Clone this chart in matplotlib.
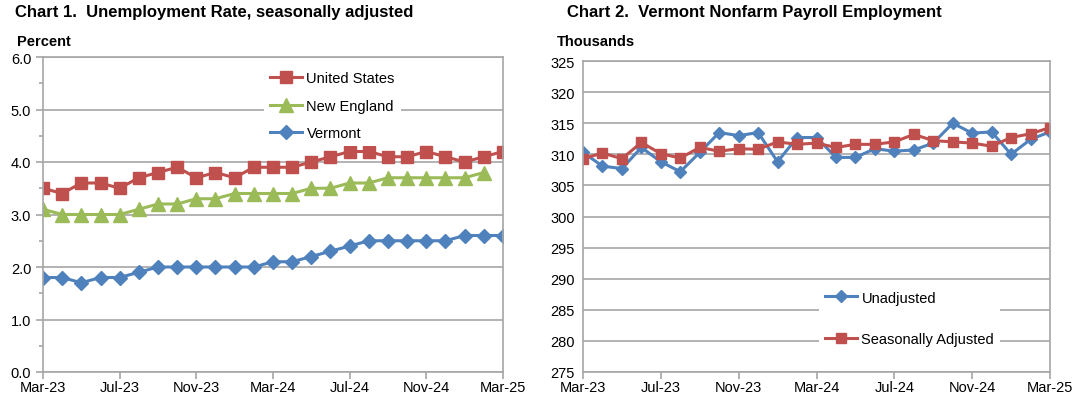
import matplotlib
matplotlib.use("Agg")
import matplotlib.pyplot as plt

plt.rcParams['font.family'] = ['Liberation Sans', 'DejaVu Sans']

# months Mar-23 .. Mar-25
months = ["Mar-23", "Apr-23", "May-23", "Jun-23", "Jul-23", "Aug-23", "Sep-23",
          "Oct-23", "Nov-23", "Dec-23", "Jan-24", "Feb-24", "Mar-24", "Apr-24",
          "May-24", "Jun-24", "Jul-24", "Aug-24", "Sep-24", "Oct-24", "Nov-24",
          "Dec-24", "Jan-25", "Feb-25", "Mar-25"]
tick_labels = ["Mar-23", "Jul-23", "Nov-23", "Mar-24", "Jul-24", "Nov-24", "Mar-25"]

# Chart 1: unemployment rate, percent
us_rate = [3.5, 3.4, 3.6, 3.6, 3.5, 3.7, 3.8, 3.9, 3.7, 3.8, 3.7, 3.9, 3.9,
           3.9, 4.0, 4.1, 4.2, 4.2, 4.1, 4.1, 4.2, 4.1, 4.0, 4.1, 4.2]
ne_rate = [3.1, 3.0, 3.0, 3.0, 3.0, 3.1, 3.2, 3.2, 3.3, 3.3, 3.4, 3.4, 3.4,
           3.4, 3.5, 3.5, 3.6, 3.6, 3.7, 3.7, 3.7, 3.7, 3.7, 3.8]
vt_rate = [1.8, 1.8, 1.7, 1.8, 1.8, 1.9, 2.0, 2.0, 2.0, 2.0, 2.0, 2.0, 2.1,
           2.1, 2.2, 2.3, 2.4, 2.5, 2.5, 2.5, 2.5, 2.5, 2.6, 2.6, 2.6]

# Chart 2: Vermont nonfarm payroll, thousands
unadjusted = [310.3, 308.1, 307.7, 311.1, 308.8, 307.2, 310.3, 313.5, 313.0,
              313.5, 308.8, 312.7, 312.7, 309.5, 309.5, 310.9, 310.5, 310.7,
              311.8, 315.0, 313.4, 313.6, 310.0, 312.4, 313.6]
seas_adj = [309.3, 310.2, 309.3, 311.9, 310.1, 309.4, 311.1, 310.5, 310.9,
            310.8, 312.0, 311.6, 311.8, 311.1, 311.6, 311.6, 312.0, 313.2,
            312.2, 312.0, 311.8, 311.3, 312.7, 313.3, 314.3]

RED = "#C0504D"
GREEN = "#9BBB59"
BLUE = "#4F81BD"
GRID = "#A6A6A6"

fig = plt.figure(figsize=(10.77, 4.06), dpi=100)
ax1 = fig.add_axes([43 / 1077, 33 / 406, 460 / 1077, 315 / 406])
ax2 = fig.add_axes([583 / 1077, 33 / 406, 467 / 1077, 311 / 406])

x = list(range(len(months)))
tick_pos = [months.index(t) for t in tick_labels]


def style_axes(ax):
    for s in ax.spines.values():
        s.set_color(GRID)
        s.set_linewidth(1.2)
    ax.grid(axis='y', color=GRID, linewidth=1.2)
    ax.set_axisbelow(True)
    ax.set_xlim(0, 24)
    ax.set_xticks(tick_pos)
    ax.set_xticklabels(tick_labels)
    ax.tick_params(axis='both', labelsize=10.5, color=GRID, length=5, width=1.2)
    ax.tick_params(axis='x', pad=0.5)


# ---- Chart 1
ax1.plot(x, us_rate, color=RED, lw=2.2, marker='s', ms=8.5, label="United States")
ax1.plot(x[:len(ne_rate)], ne_rate, color=GREEN, lw=2.2, marker='^', ms=9.5,
         label="New England")
ax1.plot(x, vt_rate, color=BLUE, lw=2.2, marker='D', ms=7, label="Vermont")
ax1.set_ylim(0, 6)
ax1.set_yticks([0, 1, 2, 3, 4, 5, 6])
ax1.set_yticklabels([f"{v:.1f}" for v in range(7)])
ax1.set_yticks([0.5, 1.5, 2.5, 3.5, 4.5, 5.5], minor=True)
ax1.tick_params(axis='y', which='minor', length=3, color=GRID, width=1.2)
style_axes(ax1)
leg1 = ax1.legend(loc='upper left', bbox_to_anchor=(0.465, 0.998), frameon=True,
                  fontsize=10.5, handlelength=2.2, labelspacing=0.95,
                  handletextpad=0.3, borderpad=0.4, framealpha=1)
leg1.get_frame().set_edgecolor('none')

fig.text(15 / 1077, 1 - 13 / 406, "Chart 1.  Unemployment Rate, seasonally adjusted",
         fontsize=12, fontweight='bold', va='center')
fig.text(17 / 1077, 1 - 42 / 406, "Percent", fontsize=10.5, fontweight='bold',
         va='center')

# ---- Chart 2
ax2.plot(x, unadjusted, color=BLUE, lw=2.2, marker='D', ms=6.5, label="Unadjusted")
ax2.plot(x, seas_adj, color=RED, lw=2.2, marker='s', ms=7,
         label="Seasonally Adjusted")
ax2.set_ylim(275, 325)
ax2.set_yticks(range(275, 326, 5))
style_axes(ax2)
ax2.tick_params(axis='y', length=0, pad=6)
leg2 = ax2.legend(loc='upper left', bbox_to_anchor=(0.49, 0.304), frameon=True,
                  fontsize=10.5, handlelength=2.2, labelspacing=1.9,
                  handletextpad=0.3, borderpad=0.4, framealpha=1)
leg2.get_frame().set_edgecolor('none')

fig.text(567 / 1077, 1 - 13 / 406, "Chart 2.  Vermont Nonfarm Payroll Employment",
         fontsize=12, fontweight='bold', va='center')
fig.text(557 / 1077, 1 - 42 / 406, "Thousands", fontsize=10.5, fontweight='bold',
         va='center')

fig.savefig("out.png", dpi=100)
